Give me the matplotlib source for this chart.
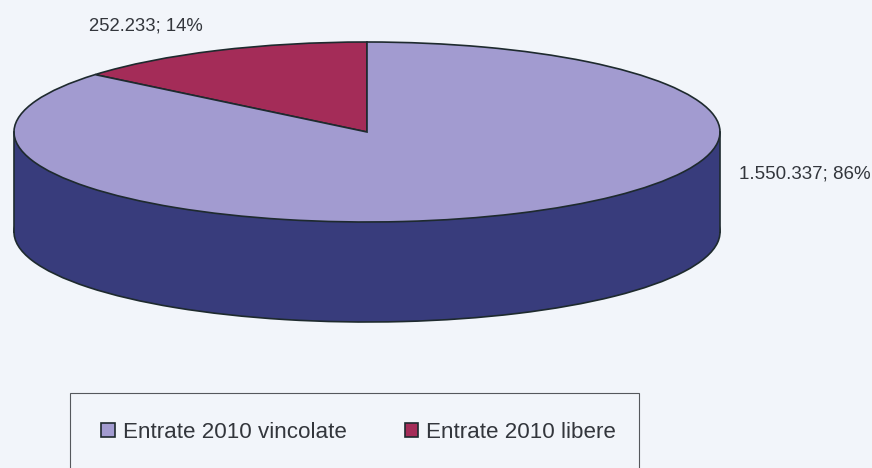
import matplotlib
matplotlib.use('Agg')
import matplotlib.pyplot as plt
from matplotlib.patches import Rectangle

plt.rcParams['font.family'] = ['Liberation Sans', 'DejaVu Sans']

categories = ['Entrate 2010 libere', 'Entrate 2010 vincolate']
values = [252233, 1550337]
value_labels = ['252.233; 14%', '1.550.337; 86%']

top_colors = ['#A42C58', '#A29BD0']
side_color = '#383C7C'
edge_color = '#1E2A2E'
bg_color = '#F2F5FA'
text_color = '#33363C'

W, H = 872, 468
CX, CY = 367, 132   # ellipse centre in pixels
RX, RY = 353, 90    # ellipse radii in pixels
DEPTH = 100 / RY    # height of the side wall

fig = plt.figure(figsize=(W / 100, H / 100), dpi=100, facecolor=bg_color)
ax = fig.add_axes([0, 0, 1, 1])

# side wall: a lower pie plus a band up to the top face
ax.pie(values, center=(0, -DEPTH), startangle=90, colors=[side_color, side_color],
       wedgeprops=dict(edgecolor=edge_color, linewidth=1.2))
ax.add_patch(Rectangle((-1, -DEPTH), 2, DEPTH, facecolor=side_color, edgecolor='none'))
# hides the lower pie's centre point
ax.add_patch(Rectangle((-0.5, -DEPTH - 0.2), 1, 0.2, facecolor=side_color, edgecolor='none'))
ax.plot([-1, -1], [-DEPTH, 0], color=edge_color, lw=1.2)
ax.plot([1, 1], [-DEPTH, 0], color=edge_color, lw=1.2)

# top face
wedges, _ = ax.pie(values, startangle=90, colors=top_colors,
                   wedgeprops=dict(edgecolor=edge_color, linewidth=1.2))

ax.set_aspect('auto')
ax.set_xlim(-CX / RX, (W - CX) / RX)
ax.set_ylim((CY - H) / RY, CY / RY)

fig.text(89 / W, 1 - 26 / H, value_labels[0], fontsize=13.3, color=text_color, va='center')
fig.text(739 / W, 1 - 174 / H, value_labels[1], fontsize=13.5, color=text_color, va='center')

# legend box runs past the bottom edge of the picture
fig.add_artist(Rectangle((70 / W, -0.02), 569 / W, 0.02 + (H - 393) / H, transform=fig.transFigure,
                         facecolor=bg_color, edgecolor='#55585C', linewidth=0.8))
fig.legend([wedges[1], wedges[0]], [categories[1], categories[0]], ncol=2, frameon=False,
           loc='center', bbox_to_anchor=(358.5 / W, 1 - 432.5 / H), fontsize=16.1,
           labelcolor=text_color, handlelength=0.6, handleheight=0.6,
           handletextpad=0.35, columnspacing=2.6)

fig.savefig('out.png', dpi=100, facecolor=bg_color)
